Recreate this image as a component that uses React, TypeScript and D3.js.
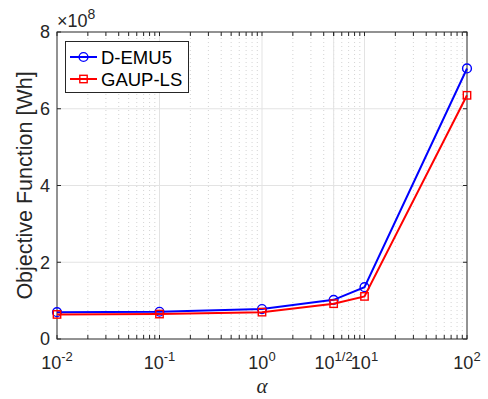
import { useEffect, useRef } from "react";
import * as d3 from "d3";

// alpha values on the x axis (the 4th point sits at 5 but is labelled 10^{1/2})
const alphas = [0.01, 0.1, 1, 5, 10, 100];
// objective function values, in units of 1e8 Wh
const demu5 = [0.70, 0.71, 0.78, 1.02, 1.35, 7.05];
const gaupLs = [0.64, 0.65, 0.70, 0.92, 1.11, 6.35];

const xTicks = [0.01, 0.1, 1, 5, 10, 100];
const xTickBase = ["10", "10", "10", "10", "10", "10"];
const xTickExp = ["-2", "-1", "0", "1/2", "1", "2"];
const yTicks = [0, 2, 4, 6, 8];

const series = [
  { name: "D-EMU5", values: demu5, color: "#0000ff", marker: "circle" },
  { name: "GAUP-LS", values: gaupLs, color: "#ff0000", marker: "square" },
];

export default function App() {
  const svgRef = useRef<SVGSVGElement>(null);

  useEffect(() => {
    if (!svgRef.current) return;
    const width = 488;
    const height = 399;
    const margin = { top: 32, right: 21, bottom: 60, left: 57 };
    const font = "Liberation Sans, Arial, Helvetica, sans-serif";

    const svg = d3.select(svgRef.current);
    svg.selectAll("*").remove();

    const x = d3.scaleLog()
      .domain([0.01, 100])
      .range([margin.left, width - margin.right]);
    const y = d3.scaleLinear()
      .domain([0, 8])
      .range([height - margin.bottom, margin.top]);

    const [x0, x1] = x.range();
    const [y0, y1] = y.range();

    // minor grid (dotted)
    const minor: number[] = [];
    for (let e = -2; e < 2; e++) {
      for (let k = 2; k <= 9; k++) minor.push(k * Math.pow(10, e));
    }
    svg.append("g")
      .selectAll("line")
      .data(minor)
      .join("line")
      .attr("x1", d => x(d)).attr("x2", d => x(d))
      .attr("y1", y0).attr("y2", y1)
      .attr("stroke", "#c8c8c8")
      .attr("stroke-width", 0.8)
      .attr("stroke-dasharray", "1,3");

    // major grid
    const grid = svg.append("g").attr("stroke", "#e3e3e3").attr("stroke-width", 1);
    grid.selectAll("line.gx")
      .data(xTicks.slice(1, -1))
      .join("line")
      .attr("class", "gx")
      .attr("x1", d => x(d)).attr("x2", d => x(d))
      .attr("y1", y0).attr("y2", y1);
    grid.selectAll("line.gy")
      .data(yTicks.slice(1, -1))
      .join("line")
      .attr("class", "gy")
      .attr("x1", x0).attr("x2", x1)
      .attr("y1", d => y(d)).attr("y2", d => y(d));

    // ticks (inside, on all sides)
    const axisColor = "#262626";
    const tl = 4;
    const ticks = svg.append("g").attr("stroke", axisColor).attr("stroke-width", 1);
    const allX = [...minor, ...xTicks];
    ticks.selectAll("line.bt")
      .data(allX).join("line").attr("class", "bt")
      .attr("x1", d => x(d)).attr("x2", d => x(d))
      .attr("y1", y0).attr("y2", y0 - tl);
    ticks.selectAll("line.tt")
      .data(allX).join("line").attr("class", "tt")
      .attr("x1", d => x(d)).attr("x2", d => x(d))
      .attr("y1", y1).attr("y2", y1 + tl);
    ticks.selectAll("line.lt")
      .data(yTicks).join("line").attr("class", "lt")
      .attr("x1", x0).attr("x2", x0 + tl)
      .attr("y1", d => y(d)).attr("y2", d => y(d));
    ticks.selectAll("line.rt")
      .data(yTicks).join("line").attr("class", "rt")
      .attr("x1", x1).attr("x2", x1 - tl)
      .attr("y1", d => y(d)).attr("y2", d => y(d));

    // box
    svg.append("rect")
      .attr("x", x0).attr("y", y1)
      .attr("width", x1 - x0).attr("height", y0 - y1)
      .attr("fill", "none")
      .attr("stroke", axisColor)
      .attr("stroke-width", 1);

    // x tick labels
    const xl = svg.append("g").attr("font-family", font).attr("fill", axisColor);
    xTicks.forEach((t, i) => {
      const txt = xl.append("text")
        .attr("x", x(t))
        .attr("y", y0 + 30)
        .attr("text-anchor", "middle")
        .attr("font-size", 18);
      txt.append("tspan").text(xTickBase[i]);
      txt.append("tspan")
        .attr("dy", -8)
        .attr("font-size", 13)
        .text(xTickExp[i]);
    });

    // y tick labels
    svg.append("g")
      .selectAll("text")
      .data(yTicks)
      .join("text")
      .attr("x", x0 - 7)
      .attr("y", d => y(d))
      .attr("dy", "0.35em")
      .attr("text-anchor", "end")
      .attr("font-family", font)
      .attr("font-size", 18)
      .attr("fill", axisColor)
      .text(d => d);

    // exponent label
    const ex = svg.append("text")
      .attr("x", x0)
      .attr("y", y1 - 5)
      .attr("font-family", font)
      .attr("font-size", 18)
      .attr("fill", axisColor);
    ex.append("tspan").text("×10");
    ex.append("tspan").attr("dy", -8).attr("font-size", 14).text("8");

    // axis labels
    svg.append("text")
      .attr("transform", `translate(32,${(y0 + y1) / 2}) rotate(-90)`)
      .attr("text-anchor", "middle")
      .attr("font-family", font)
      .attr("font-size", 21.5)
      .attr("fill", axisColor)
      .text("Objective Function [Wh]");
    svg.append("text")
      .attr("x", (x0 + x1) / 2)
      .attr("y", 393)
      .attr("text-anchor", "middle")
      .attr("font-family", "Liberation Serif, Times New Roman, serif")
      .attr("font-style", "italic")
      .attr("font-size", 21)
      .attr("fill", axisColor)
      .text("α");

    // lines and markers
    const line = d3.line<number>()
      .x((_, i) => x(alphas[i]))
      .y(d => y(d));

    const drawMarker = (g: any, kind: string, cx: number, cy: number, color: string) => {
      if (kind === "circle") {
        g.append("circle")
          .attr("cx", cx).attr("cy", cy).attr("r", 4.4)
          .attr("fill", "none").attr("stroke", color).attr("stroke-width", 1.4);
      } else {
        g.append("rect")
          .attr("x", cx - 3.7).attr("y", cy - 3.7)
          .attr("width", 7.4).attr("height", 7.4)
          .attr("fill", "none").attr("stroke", color).attr("stroke-width", 1.4);
      }
    };

    series.forEach(s => {
      const g = svg.append("g");
      g.append("path")
        .attr("d", line(s.values))
        .attr("fill", "none")
        .attr("stroke", s.color)
        .attr("stroke-width", 2);
      s.values.forEach((v, i) => drawMarker(g, s.marker, x(alphas[i]), y(v), s.color));
    });

    // legend
    const lg = svg.append("g");
    lg.append("rect")
      .attr("x", 65.5).attr("y", 41.5)
      .attr("width", 123).attr("height", 51)
      .attr("fill", "#ffffff")
      .attr("stroke", axisColor)
      .attr("stroke-width", 1);
    series.forEach((s, i) => {
      const cy = 57 + i * 22;
      lg.append("line")
        .attr("x1", 70).attr("x2", 97)
        .attr("y1", cy).attr("y2", cy)
        .attr("stroke", s.color).attr("stroke-width", 2);
      drawMarker(lg, s.marker, 83.5, cy, s.color);
      lg.append("text")
        .attr("x", 101).attr("y", cy)
        .attr("dy", "0.36em")
        .attr("font-family", font)
        .attr("font-size", 18.5)
        .attr("fill", "#000")
        .text(s.name);
    });
  }, []);

  return (
    <svg
      ref={svgRef}
      width={488}
      height={399}
      style={{ position: "absolute", left: 0, top: 0, background: "#fff" }}
    />
  );
}
